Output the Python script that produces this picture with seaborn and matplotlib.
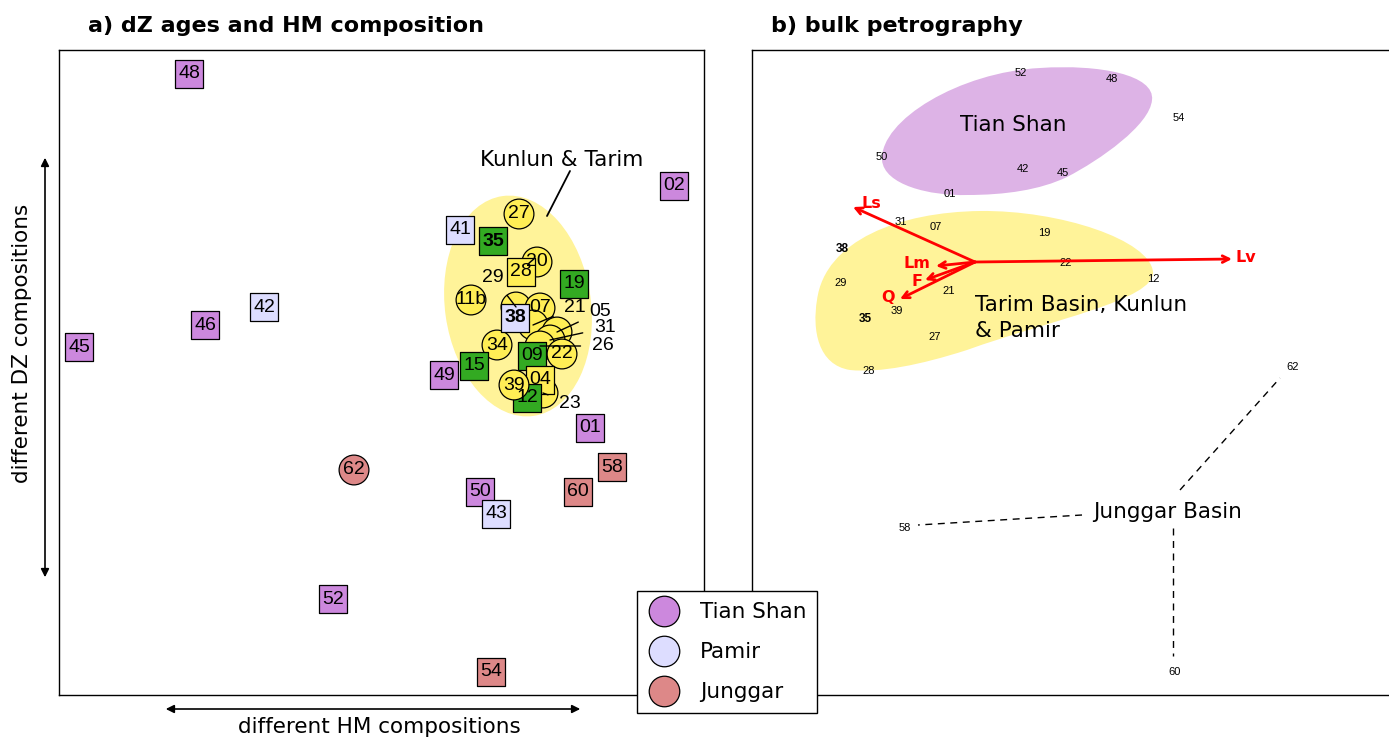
import numpy as np
import pandas as pd
import matplotlib
matplotlib.use('Agg')
import matplotlib.pyplot as plt
import seaborn as sns
from matplotlib.patches import Ellipse, PathPatch
from matplotlib.path import Path
from matplotlib.lines import Line2D

# ---------------------------------------------------------------
# panel a: MDS map of detrital zircon ages + heavy minerals
# ---------------------------------------------------------------
a_labels = ['27', '20', '11b', '29', '07', '21', '05', '31', '26', '34', '22', '23', '62',
            '48', '02', '41', '35', '28', '19', '42', '46', '45', '38', '09', '15', '49',
            '04', '12', '01', '58', '60', '50', '43', '52', '54', '39']
a_x = [460, 478, 412, 457, 481, 474, 498, 491, 481, 438, 503, 484, 295,
       130, 615, 401, 434, 462, 515, 205, 146, 20, 456, 473, 415, 385,
       481, 468, 531, 553, 519, 421, 437, 274, 432, 455]
a_y = [164, 212, 250, 257, 258, 275, 282, 290, 296, 295, 304, 343, 420,
       24, 136, 180, 191, 222, 234, 257, 275, 297, 268, 306, 316, 325,
       330, 348, 378, 417, 442, 442, 464, 549, 622, 335]
a_group = ['Tarim'] * 12 + ['Junggar',
           'Tian Shan', 'Tian Shan', 'Pamir', 'Kunlun', 'Tarim', 'Kunlun', 'Pamir',
           'Tian Shan', 'Tian Shan', 'Pamir', 'Kunlun', 'Kunlun', 'Tian Shan',
           'Tarim', 'Kunlun', 'Tian Shan', 'Junggar', 'Junggar', 'Tian Shan', 'Pamir',
           'Tian Shan', 'Junggar', 'Tarim']
a_shape = ['circle'] * 13 + ['square'] * 22 + ['circle']
# labels written outside their symbol (with a leader line)
out_labels = ['29', '21', '05', '31', '26', '23']
out_x = [434, 516, 541, 546, 544, 511]
out_y = [227, 257, 262, 278, 296, 353]
bold_labels = ['35', '38']

# ---------------------------------------------------------------
# panel b: bulk petrography biplot
# ---------------------------------------------------------------
b_labels = ['52', '48', '54', '50', '42', '45', '01', '31', '07', '19', '38', '22',
            '12', '29', '21', '39', '35', '27', '28', '62', '58', '60']
b_x = [269, 360, 427, 130, 271, 311, 198, 149, 184, 292, 90, 314,
       401, 89, 197, 145, 113, 183, 117, 541, 153, 423]
b_y = [23, 29, 68, 107, 119, 123, 144, 172, 177, 183, 199, 213,
       229, 233, 241, 261, 269, 287, 321, 317, 478, 622]
load_names = ['Ls', 'Lm', 'F', 'Q', 'Lv']
load_dx = [-122, -39, -50, -75, 257]
load_dy = [-55, 4, 18, 37, -3]
load_origin = (223, 212)

palette = {'Tian Shan': '#CC88DD', 'Pamir': '#DDDDFF', 'Junggar': '#DD8888',
           'Tarim': '#FFEE55', 'Kunlun': '#33AA22'}

sns.set_theme(style='white')
plt.rcParams['font.family'] = ['DejaVu Sans']
plt.rcParams['text.color'] = 'black'
num_font = ['Liberation Sans', 'DejaVu Sans']
big = 15.5

fig = plt.figure(figsize=(13.89, 7.37), dpi=100)
W, H = 1389, 737
ax_a = fig.add_axes([59 / W, 1 - 695 / H, 645 / W, 645 / H])
ax_b = fig.add_axes([752 / W, 1 - 695 / H, 645 / W, 645 / H])

for ax in (ax_a, ax_b):
    ax.set_xlim(0, 645)
    ax.set_ylim(645, 0)
    ax.set_xticks([])
    ax.set_yticks([])
    for sp in ax.spines.values():
        sp.set_color('black')
        sp.set_linewidth(1.0)

# ---- panel a ----
ax_a.add_patch(Ellipse((459, 256), 146, 222, angle=-8, facecolor='#FFF399',
                       edgecolor='none', zorder=1))

df_a = pd.DataFrame({'x': a_x, 'y': a_y, 'group': a_group, 'shape': a_shape})
sns.scatterplot(data=df_a, x='x', y='y', hue='group', palette=palette,
                style='shape', markers={'circle': 'o', 'square': 's'},
                size='shape', sizes={'circle': 460, 'square': 390},
                edgecolor='black', linewidth=0.9, legend=False, ax=ax_a, zorder=3)
ax_a.set_xlabel('')
ax_a.set_ylabel('')
ax_a.set_xlim(0, 645)
ax_a.set_ylim(645, 0)

for lab, x, y in zip(a_labels, a_x, a_y):
    if lab in out_labels:
        continue
    ax_a.text(x, y, lab, ha='center', va='center', fontsize=14, zorder=4,
              family=num_font,
              fontweight='bold' if lab in bold_labels else 'normal')

for lab, tx, ty in zip(out_labels, out_x, out_y):
    i = a_labels.index(lab)
    ax_a.annotate(lab, xy=(a_x[i], a_y[i]), xytext=(tx, ty), fontsize=14,
                  family=num_font, ha='center', va='center', zorder=4,
                  arrowprops=dict(arrowstyle='-', color='black', lw=1,
                                  shrinkA=6, shrinkB=0))

ax_a.text(503, 110, 'Kunlun & Tarim', fontsize=big, ha='center', va='center')
ax_a.plot([511, 488], [121, 166], color='black', lw=1.3)

ax_a.annotate('', xy=(-14, 105), xytext=(-14, 530), annotation_clip=False,
              arrowprops=dict(arrowstyle='<|-|>', color='black', lw=1.2,
                              mutation_scale=12))
ax_a.annotate('', xy=(104, 659), xytext=(524, 659), annotation_clip=False,
              arrowprops=dict(arrowstyle='<|-|>', color='black', lw=1.2,
                              mutation_scale=12))
ax_a.text(-37, 293, 'different DZ compositions', rotation=90, ha='center',
          va='center', fontsize=big, clip_on=False)
ax_a.text(320, 677, 'different HM compositions', ha='center', va='center',
          fontsize=big, clip_on=False)

# ---- panel b ----
ts_verts = [(130, 110), (132, 135), (178, 146), (215, 145),
            (253, 145), (288, 140), (315, 127),
            (348, 110), (398, 75), (400, 50),
            (403, 25), (348, 14), (288, 18),
            (208, 22), (128, 70), (130, 110)]
ts_codes = [Path.MOVETO] + [Path.CURVE4] * 15
ax_b.add_patch(PathPatch(Path(ts_verts, ts_codes), facecolor='#DDB3E6',
                         edgecolor='none', zorder=1))

tr_verts = [(228, 161), (308, 160), (398, 190), (401, 222),
            (403, 250), (298, 270), (215, 300),
            (168, 315), (128, 323), (98, 320),
            (66, 315), (60, 280), (65, 250),
            (73, 190), (148, 162), (228, 161)]
tr_codes = [Path.MOVETO] + [Path.CURVE4] * 15
ax_b.add_patch(PathPatch(Path(tr_verts, tr_codes), facecolor='#FFF399',
                         edgecolor='none', zorder=1))

ax_b.text(261, 75, 'Tian Shan', ha='center', va='center', fontsize=big, zorder=4)
ax_b.text(223, 268, 'Tarim Basin, Kunlun\n& Pamir', ha='left', va='center',
          fontsize=big, linespacing=1.4, zorder=4)

for lab, x, y in zip(b_labels, b_x, b_y):
    bold = lab in bold_labels
    ax_b.text(x, y, lab, ha='center', va='center', family=num_font,
              fontsize=8.5 if bold else 8,
              fontweight='bold' if bold else 'normal', zorder=4)

ox, oy = load_origin
label_off = {'Ls': (18, -4), 'Lm': (-19, -3), 'F': (-8, 1), 'Q': (-12, -2), 'Lv': (14, -1)}
for name, dx, dy in zip(load_names, load_dx, load_dy):
    ax_b.annotate('', xy=(ox + dx, oy + dy), xytext=(ox, oy),
                  arrowprops=dict(arrowstyle='->', color='#FF0000', lw=2,
                                  mutation_scale=12, shrinkA=0, shrinkB=0),
                  zorder=5)
    lx, ly = label_off[name]
    ax_b.text(ox + dx + lx, oy + dy + ly, name, color='#FF0000', fontsize=11.5,
              fontweight='bold', ha='center', va='center', zorder=5)

ax_b.text(416, 462, 'Junggar Basin', ha='center', va='center', fontsize=big, zorder=4)
for x0, y0, x1, y1 in [(330, 465, 166, 475), (428, 440, 528, 328), (421, 478, 421, 606)]:
    ax_b.plot([x0, x1], [y0, y1], ls=(0, (5, 4)), color='black', lw=1, zorder=3)

# ---- titles ----
fig.text(88 / W, 1 - 26 / H, 'a) dZ ages and HM composition', fontsize=16,
         fontweight='bold', ha='left', va='center')
fig.text(771 / W, 1 - 26 / H, 'b) bulk petrography', fontsize=16,
         fontweight='bold', ha='left', va='center')

# ---- legend ----
handles = [Line2D([], [], marker='o', ls='none', markersize=22,
                  markerfacecolor=palette[g], markeredgecolor='black',
                  markeredgewidth=0.9) for g in ['Tian Shan', 'Pamir', 'Junggar']]
leg = fig.legend(handles, ['Tian Shan', 'Pamir', 'Junggar'], loc='lower left',
                 bbox_to_anchor=(637 / W, 1 - 713 / H), fontsize=big,
                 frameon=True, fancybox=False, framealpha=1, edgecolor='black',
                 borderpad=0.5, labelspacing=0.93, handletextpad=0.92,
                 handlelength=1.51, borderaxespad=0)
leg.get_frame().set_linewidth(1.0)

fig.savefig('out.png', dpi=100)
